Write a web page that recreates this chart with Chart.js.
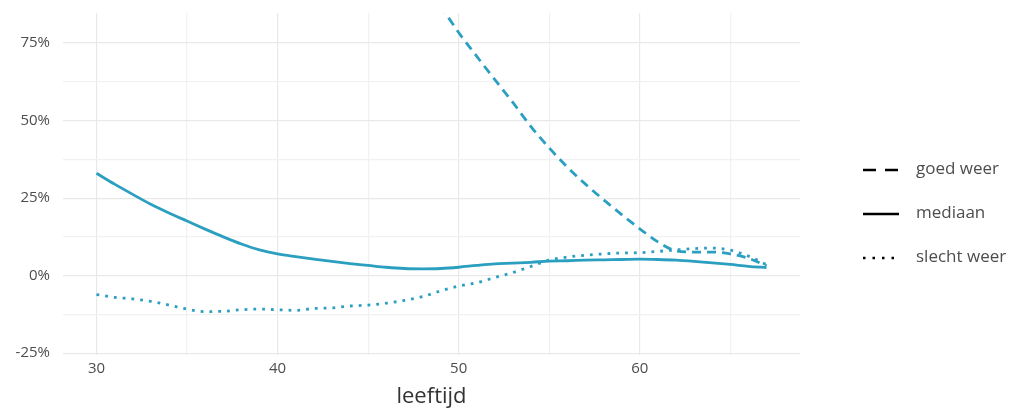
<!DOCTYPE html>
<html>
<head>
<meta charset="utf-8">
<script src="https://cdn.jsdelivr.net/npm/chart.js@4.4.1/dist/chart.umd.min.js"></script>
<style>
  body { margin: 0; background: #fff; }
  #wrap { width: 1026px; height: 408px; }
</style>
</head>
<body>
<div id="wrap"><canvas id="leeftijdChart" width="1026" height="408"></canvas></div>
<script>
// leeftijd (x)
const ages = [30, 31, 32, 33, 34, 35, 36, 37, 38, 39, 40, 41, 42, 43, 44, 45, 46, 47, 48,
  49, 50, 51, 52, 53, 54, 55, 56, 57, 58, 59, 60, 61, 62, 63, 64, 65, 66, 67];

// percentages
const mediaan = [33, 29.5, 26.2, 23, 20.2, 17.6, 15, 12.5, 10.2, 8.3, 7, 6.1, 5.3, 4.6, 3.9,
  3.3, 2.7, 2.3, 2.2, 2.3, 2.7, 3.3, 3.8, 4, 4.3, 4.7, 4.8, 5, 5.1, 5.2, 5.3, 5.2, 5, 4.6,
  4.1, 3.6, 3, 2.6];
const slechtWeer = [-6.1, -7, -7.5, -8.3, -9.5, -10.8, -11.6, -11.5, -11, -10.8, -11, -11.2,
  -10.6, -10.4, -9.8, -9.5, -8.9, -8, -6.8, -4.9, -3.4, -2.3, -0.6, 1, 3, 5, 6, 6.6, 7, 7.3,
  7.4, 7.8, 8.3, 8.7, 8.9, 8.2, 6.3, 3.5];
const goedWeer = [null, null, null, null, null, null, null, null, null, null, null, null, null,
  null, null, null, null, null, 95, 87, 78.4, 70.7, 63.2, 55.8, 48, 41.2, 35, 29.5, 24.5, 19.7,
  15.1, 10.9, 8, 7.6, 7.6, 7, 5.6, 3.2];

const xTicks = [30, 35, 40, 45, 50, 55, 60, 65];
const yTicks = [-25, -12.5, 0, 12.5, 25, 37.5, 50, 62.5, 75];

const lineColor = '#2b9fc0';
const tickFont = { family: 'Open Sans', size: 15 };

const toPoints = (ys) => ages.map((a, i) => ({ x: a, y: ys[i] }));

// legend on the right, black keys like ggplot
const sideLegend = {
  id: 'sideLegend',
  afterDraw(chart) {
    const ctx = chart.ctx;
    const items = chart.data.datasets;
    ctx.save();
    ctx.font = '17px "Open Sans"';
    ctx.textBaseline = 'middle';
    ctx.textAlign = 'left';
    items.forEach((ds, i) => {
      const y = 170 + i * 44;
      ctx.strokeStyle = '#000';
      ctx.lineWidth = 2.5;
      ctx.setLineDash(ds.keyDash);
      ctx.beginPath();
      ctx.moveTo(863, y);
      ctx.lineTo(899, y);
      ctx.stroke();
      ctx.setLineDash([]);
      ctx.fillStyle = '#4d4d4d';
      ctx.fillText(ds.label, 916, y - 1);
    });
    ctx.restore();
  }
};

const leeftijdChart = new Chart(document.getElementById('leeftijdChart'), {
  type: 'line',
  data: {
    datasets: [
      {
        label: 'goed weer',
        data: toPoints(goedWeer),
        borderColor: lineColor,
        borderWidth: 2.8,
        borderDash: [9, 6],
        keyDash: [13, 9],
        pointRadius: 0,
        cubicInterpolationMode: 'monotone'
      },
      {
        label: 'mediaan',
        data: toPoints(mediaan),
        borderColor: lineColor,
        borderWidth: 2.8,
        keyDash: [],
        pointRadius: 0,
        cubicInterpolationMode: 'monotone'
      },
      {
        label: 'slecht weer',
        data: toPoints(slechtWeer),
        borderColor: lineColor,
        borderWidth: 2.8,
        borderDash: [2.8, 6],
        keyDash: [2.5, 7],
        pointRadius: 0,
        cubicInterpolationMode: 'monotone'
      }
    ]
  },
  options: {
    responsive: false,
    animation: false,
    layout: {
      padding: { left: 0, right: 226, top: 13, bottom: 0 }
    },
    plugins: {
      legend: { display: false },
      tooltip: { enabled: false }
    },
    scales: {
      x: {
        type: 'linear',
        min: 28.15,
        max: 68.85,
        afterBuildTicks: (scale) => { scale.ticks = xTicks.map(v => ({ value: v })); },
        afterFit: (scale) => {
          scale.height = 53;
          scale.paddingLeft = 0;
          scale.paddingRight = 0;
        },
        ticks: {
          color: '#4d4d4d',
          font: tickFont,
          padding: 5,
          maxRotation: 0,
          callback: (v) => (v % 10 === 0 ? String(v) : '')
        },
        grid: {
          color: (c) => (c.tick && c.tick.value % 10 === 0 ? '#e9e9e9' : '#f1f1f1'),
          lineWidth: 1.2,
          drawTicks: false
        },
        border: { display: false },
        title: {
          display: true,
          text: 'leeftijd',
          color: '#333',
          font: { family: 'Open Sans', size: 22, lineHeight: 1 },
          padding: { top: 0, bottom: 0 }
        }
      },
      y: {
        min: -25.6,
        max: 84.7,
        afterBuildTicks: (scale) => { scale.ticks = yTicks.map(v => ({ value: v })); },
        afterFit: (scale) => {
          scale.width = 63;
          scale.paddingTop = 0;
          scale.paddingBottom = 0;
        },
        ticks: {
          color: '#4d4d4d',
          font: tickFont,
          padding: 13,
          callback: (v) => (v % 25 === 0 ? v + '%' : '')
        },
        grid: {
          color: (c) => (c.tick && c.tick.value % 25 === 0 ? '#e9e9e9' : '#f1f1f1'),
          lineWidth: 1.2,
          drawTicks: false
        },
        border: { display: false }
      }
    }
  },
  plugins: [sideLegend]
});
</script>
</body>
</html>
